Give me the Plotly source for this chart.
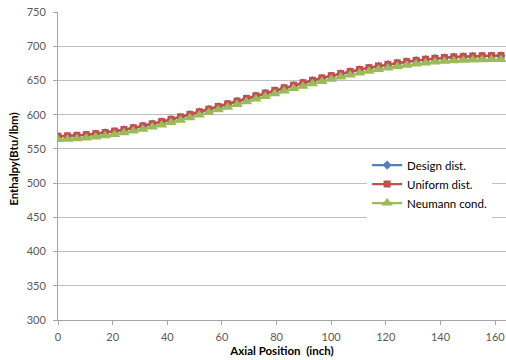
import plotly.graph_objects as go

axial_position = [0, 3.45, 6.9, 10.35, 13.8, 17.25, 20.7, 24.15, 27.6, 31.05, 34.5, 37.95,
                  41.4, 44.85, 48.3, 51.75, 55.2, 58.65, 62.1, 65.55, 69.0, 72.45, 75.9, 79.35,
                  82.8, 86.25, 89.7, 93.15, 96.6, 100.05, 103.5, 106.95, 110.4, 113.85, 117.3, 120.75,
                  124.2, 127.65, 131.1, 134.55, 138.0, 141.45, 144.9, 148.35, 151.8, 155.25, 158.7, 162.15]

design_dist = [568.0, 568.5, 569.3, 570.4, 571.8, 573.5, 575.5, 577.8, 580.4, 583.2, 586.2, 589.4,
               592.8, 596.3, 600.0, 603.8, 607.6, 611.5, 615.4, 619.4, 623.3, 627.2, 631.1, 635.0,
               638.8, 642.6, 646.2, 649.7, 653.2, 656.5, 659.6, 662.6, 665.5, 668.2, 670.7, 673.1,
               675.2, 677.2, 678.9, 680.5, 681.9, 683.0, 684.0, 684.7, 685.2, 685.6, 685.8, 685.9]

uniform_dist = [568.5, 569.0, 569.8, 570.9, 572.3, 574.0, 576.0, 578.3, 580.9, 583.7, 586.7, 589.9,
                593.3, 596.8, 600.5, 604.3, 608.1, 612.0, 615.9, 619.9, 623.8, 627.7, 631.6, 635.5,
                639.3, 643.1, 646.7, 650.2, 653.7, 657.0, 660.1, 663.1, 666.0, 668.7, 671.2, 673.6,
                675.7, 677.7, 679.4, 681.0, 682.4, 683.5, 684.5, 685.2, 685.7, 686.1, 686.3, 686.4]

neumann_cond = [563.6, 564.1, 564.9, 566.0, 567.4, 569.1, 571.1, 573.4, 576.0, 578.8, 581.8, 585.0,
                588.4, 591.9, 595.6, 599.4, 603.2, 607.1, 611.0, 615.0, 618.9, 622.8, 626.7, 630.6,
                634.4, 638.1, 641.7, 645.2, 648.6, 651.9, 655.0, 658.0, 660.8, 663.5, 666.0, 668.3,
                670.4, 672.3, 674.0, 675.5, 676.8, 677.9, 678.8, 679.5, 680.0, 680.3, 680.5, 680.6]

series_names = ["Design dist.", "Uniform dist.", "Neumann cond."]
x_ticks = [0, 20, 40, 60, 80, 100, 120, 140, 160]
y_ticks = [300, 350, 400, 450, 500, 550, 600, 650, 700, 750]

fig = go.Figure()
fig.add_trace(go.Scatter(x=axial_position, y=design_dist, name=series_names[0], mode="lines+markers",
                         line=dict(color="#4F81BD", width=2.25),
                         marker=dict(symbol="diamond", size=7, color="#4F81BD")))
fig.add_trace(go.Scatter(x=axial_position, y=uniform_dist, name=series_names[1], mode="lines+markers",
                         line=dict(color="#C0504D", width=2.25),
                         marker=dict(symbol="square", size=7, color="#C0504D")))
fig.add_trace(go.Scatter(x=axial_position, y=neumann_cond, name=series_names[2], mode="lines+markers",
                         line=dict(color="#9BBB59", width=2.25),
                         marker=dict(symbol="triangle-up", size=10, color="#9BBB59")))

fig.update_layout(
    width=506, height=360,
    margin=dict(l=58, r=0, t=12, b=40, autoexpand=False),
    paper_bgcolor="white", plot_bgcolor="white",
    font=dict(family="Lato", size=11, color="#595959"),
    showlegend=True,
    legend=dict(x=0.69, y=0.55, xanchor="left", yanchor="top", bgcolor="white",
                font=dict(family="Lato", size=11.5, color="#000000"),
                itemwidth=30, tracegroupgap=0),
    xaxis=dict(range=[0, 164], tickvals=x_ticks, showgrid=False, zeroline=False, automargin=False,
               showline=True, linecolor="#A6A6A6", linewidth=1,
               ticks="outside", ticklen=4, tickcolor="#A6A6A6", ticklabelstandoff=3,
               title=dict(text="<b>Axial Position  (inch)</b>", standoff=4,
                          font=dict(family="Lato", size=11.5, color="#000000"))),
    yaxis=dict(range=[300, 750], tickvals=y_ticks, showgrid=True, gridcolor="#BFBFBF", gridwidth=1,
               zeroline=False, showline=True, linecolor="#A6A6A6", linewidth=1, automargin=False,
               ticks="outside", ticklen=4, tickcolor="#A6A6A6", ticklabelstandoff=5),
    annotations=[dict(text="<b>Enthalpy(Btu/lbm)</b>", textangle=-90, xref="paper", yref="paper",
                      x=0, y=0.52, xshift=-44, xanchor="center", yanchor="middle", showarrow=False,
                      font=dict(family="Lato", size=11.5, color="#000000"))],
)

fig.write_html("out.html", config={"displayModeBar": False},
               post_script="document.body.style.margin='0';document.body.style.overflow='hidden';")
